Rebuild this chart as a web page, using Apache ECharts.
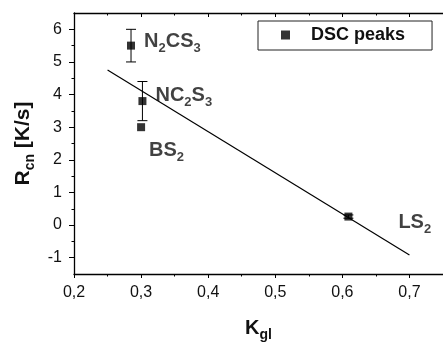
<!DOCTYPE html>
<html><head><meta charset="utf-8">
<script src="https://cdn.jsdelivr.net/npm/echarts@6/dist/echarts.min.js"></script>
<style>html,body{margin:0;padding:0;background:#fff}#c{width:443px;height:347px}</style>
</head><body><div id="c"></div>
<script>
// ---- data ----
var sampleNames = ['N2CS3', 'NC2S3', 'BS2', 'LS2'];
var kgl = [0.285, 0.302, 0.300, 0.609];
var rcn = [5.5, 3.8, 3.0, 0.26];
var rcnErr = [0.5, 0.6, 0, 0.05];
var fitLineX = [0.25, 0.70];
var fitLineY = [4.75, -0.92];
var xTicks = [0.2, 0.3, 0.4, 0.5, 0.6, 0.7];
var xMinorTicks = [0.25, 0.35, 0.45, 0.55, 0.65];
var yTicks = [-1, 0, 1, 2, 3, 4, 5, 6];
var yMinorTicks = [-0.5, 0.5, 1.5, 2.5, 3.5, 4.5, 5.5];
var legendName = 'DSC peaks';

var FONT = '"Liberation Sans", Arial, sans-serif';
var chart = echarts.init(document.getElementById('c'), null, {renderer: 'canvas'});

var pts = kgl.map(function (x, i) { return [x, rcn[i], rcnErr[i], i]; });
var lineData = fitLineX.map(function (x, i) { return [x, fitLineY[i]]; });

var labelText = {
  'N2CS3': '{b|N}{s|2}{b|CS}{s|3}',
  'NC2S3': '{b|NC}{s|2}{b|S}{s|3}',
  'BS2': '{b|BS}{s|2}',
  'LS2': '{b|LS}{s|2}'
};
var labelOffset = {
  'N2CS3': [4, -4],
  'NC2S3': [4, -6],
  'BS2': [-1, 23],
  'LS2': [41, 6]
};
var rich = {
  b: {fontFamily: FONT, fontWeight: 'bold', fontSize: 20, color: '#111'},
  s: {fontFamily: FONT, fontWeight: 'bold', fontSize: 13, color: '#111', padding: [14, 0, 0, 0]}
};

var axisLineStyle = {color: '#000', width: 1.3};

var option = {
  animation: false,
  backgroundColor: '#fff',
  grid: {left: 74, top: 13, right: -9, bottom: 67, show: false},
  legend: {
    data: [legendName],
    left: 258, top: 21,
    itemWidth: 9, itemHeight: 9,
    padding: [5, 27, 6, 23],
    borderColor: '#222', borderWidth: 1,
    textStyle: {fontFamily: FONT, fontWeight: 'bold', fontSize: 18, color: '#111', padding: [0, 0, 0, 16]}
  },
  xAxis: [{
    type: 'value', min: 0.2, max: 0.75, position: 'bottom',
    name: '{b|K}{s|gl}', nameLocation: 'middle', nameGap: 40,
    nameTextStyle: {rich: {
      b: {fontFamily: FONT, fontWeight: 'bold', fontSize: 20, color: '#111'},
      s: {fontFamily: FONT, fontWeight: 'bold', fontSize: 14, color: '#111', padding: [14, 0, 0, 0]}
    }},
    axisLine: {onZero: false, lineStyle: axisLineStyle},
    axisTick: {show: true, inside: false, length: 4, customValues: xTicks, lineStyle: {color: '#000'}},
    axisLabel: {customValues: xTicks, fontFamily: FONT, fontSize: 16, color: '#111', margin: 11,
      formatter: function (v) { return v.toFixed(1).replace('.', ','); }},
    splitLine: {show: false}
  }, {
    type: 'value', min: 0.2, max: 0.75, position: 'bottom',
    axisLine: {show: false, onZero: false},
    axisTick: {show: true, inside: false, length: 2.5, customValues: xMinorTicks, lineStyle: {color: '#000'}},
    axisLabel: {show: false}, splitLine: {show: false}
  }, {
    type: 'value', min: 0.2, max: 0.75, position: 'top',
    axisLine: {onZero: false, lineStyle: axisLineStyle},
    axisTick: {show: true, inside: true, length: 4, customValues: xTicks, lineStyle: {color: '#000'}},
    axisLabel: {show: false}, splitLine: {show: false}
  }, {
    type: 'value', min: 0.2, max: 0.75, position: 'top',
    axisLine: {show: false, onZero: false},
    axisTick: {show: true, inside: true, length: 2.5, customValues: xMinorTicks, lineStyle: {color: '#000'}},
    axisLabel: {show: false}, splitLine: {show: false}
  }],
  yAxis: [{
    type: 'value', min: -1.5, max: 6.5, position: 'left',
    name: '{b|R}{s|cn}{b| [K/s]}', nameLocation: 'middle', nameGap: 36, nameRotate: 90,
    nameTextStyle: {rich: {
      b: {fontFamily: FONT, fontWeight: 'bold', fontSize: 21, color: '#111'},
      s: {fontFamily: FONT, fontWeight: 'bold', fontSize: 14, color: '#111', padding: [14, 0, 0, 0]}
    }},
    axisLine: {show: true, onZero: false, lineStyle: axisLineStyle},
    axisTick: {show: true, inside: false, length: 5, customValues: yTicks, lineStyle: {color: '#000'}},
    axisLabel: {customValues: yTicks, fontFamily: FONT, fontSize: 16, color: '#111', margin: 12},
    splitLine: {show: false}
  }, {
    type: 'value', min: -1.5, max: 6.5, position: 'left',
    axisLine: {show: false, onZero: false},
    axisTick: {show: true, inside: false, length: 2.5, customValues: yMinorTicks, lineStyle: {color: '#000'}},
    axisLabel: {show: false}, splitLine: {show: false}
  }],
  series: [{
    name: 'fit', type: 'line', data: lineData, xAxisIndex: 0, yAxisIndex: 0,
    symbol: 'none', lineStyle: {color: '#000', width: 1.2}, silent: true, z: 2
  }, {
    name: 'errors', type: 'custom', xAxisIndex: 0, yAxisIndex: 0, z: 3,
    data: pts,
    renderItem: function (params, api) {
      var x = api.value(0), y = api.value(1), e = api.value(2);
      if (!e) return null;
      var top = api.coord([x, y + e]);
      var bot = api.coord([x, y - e]);
      var cap = 5;
      var st = {stroke: '#000', lineWidth: 1};
      return {type: 'group', children: [
        {type: 'line', shape: {x1: top[0], y1: top[1], x2: bot[0], y2: bot[1]}, style: st},
        {type: 'line', shape: {x1: top[0] - cap, y1: top[1], x2: top[0] + cap, y2: top[1]}, style: st},
        {type: 'line', shape: {x1: bot[0] - cap, y1: bot[1], x2: bot[0] + cap, y2: bot[1]}, style: st}
      ]};
    }
  }, {
    name: legendName, type: 'scatter', xAxisIndex: 0, yAxisIndex: 0, z: 4,
    symbol: 'rect', symbolSize: 8,
    itemStyle: {color: '#000'},
    data: pts.map(function (p) {
      var nm = sampleNames[p[3]];
      return {value: [p[0], p[1]], label: {
        show: true, position: 'right', formatter: labelText[nm], offset: labelOffset[nm], rich: rich
      }};
    })
  }]
};
chart.setOption(option);
</script>
</body></html>
